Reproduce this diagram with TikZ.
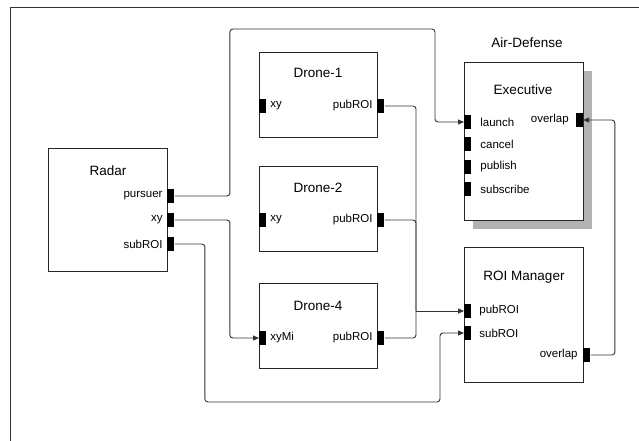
\documentclass[tikz,border=0pt]{standalone}
\usepackage{fontspec}
\setmainfont{Liberation Sans}
\usepackage{tikz}
\usetikzlibrary{arrows.meta,positioning}
\tikzstyle{sys}=[
  x=1pt,y=-1pt,>={Triangle[length=6pt,width=5pt]},line width=0.9pt
]
\tikzstyle{block}=[
  draw=black!85,rectangle,inner sep=0pt,anchor=north west,fill=white,minimum width=118pt
]
\tikzstyle{inport}=[
  fill=black,inner sep=0pt,minimum width=7pt,minimum height=14pt,anchor=west
]
\tikzstyle{outport}=[
  inport
]
\tikzstyle{wire}=[
  draw=black!80,rounded corners=3pt
]

\begin{document}
\begin{tikzpicture}[sys,
    title/.style={font=\fontsize{13.5}{15}\selectfont},
    portlabel/.style={font=\fontsize{11.5}{13}\selectfont,inner sep=0pt},
    ]
    \useasboundingbox (0,0) rectangle (639,441);
    \draw[black!80] (10,441) -- (10,7) -- (639,7);

    %Blocks
    \fill[black!30] (473,71) rectangle (592,229);
    \node[block, minimum height=123pt, minimum width=119pt] (radar) at (48,148) {};
    \node[block, minimum height=85pt]  (drone1) at (259,52)  {};
    \node[block, minimum height=85pt]  (drone2) at (259,166) {};
    \node[block, minimum height=85pt]  (drone4) at (259,283) {};
    \node[block, minimum height=158pt, minimum width=119pt] (exec) at (464,62)  {};
    \node[block, minimum height=135pt, minimum width=119pt] (roi)  at (464,247) {};

    %Titles
    \node[title] (radarTitle)  at (108,171) {Radar};
    \node[title] (drone1Title) at (318,73)  {Drone-1};
    \node[title] (drone2Title) at (318,188) {Drone-2};
    \node[title] (drone4Title) at (318,306) {Drone-4};
    \node[title] (execTitle)   at (523,90)  {Executive};
    \node[title] (roiTitle)    at (524,277) {ROI Manager};
    \node[title] (airTitle)    at (527,43)  {Air-Defense};

    %Ports
    \node[outport] (rdPursuer) at (167,196) {};
    \node[outport] (rdXy)      at (167,220) {};
    \node[outport] (rdSub)     at (167,244) {};
    \node[inport]  (d1Xy)      at (259,106) {};
    \node[outport] (d1Pub)     at (377,106) {};
    \node[inport]  (d2Xy)      at (259,220) {};
    \node[outport] (d2Pub)     at (377,220) {};
    \node[inport]  (d4Xy)      at (259,338) {};
    \node[outport] (d4Pub)     at (377,338) {};
    \node[inport]  (exLaunch)  at (464,122) {};
    \node[inport]  (exCancel)  at (464,144) {};
    \node[inport]  (exPublish) at (464,167) {};
    \node[inport]  (exSub)     at (464,189) {};
    \node[inport, anchor=east] (exOver) at (583,120) {};
    \node[inport]  (roiPub)    at (464,311) {};
    \node[inport]  (roiSub)    at (464,333) {};
    \node[outport] (roiOver)   at (583,355) {};

    %Port labels
    \node[portlabel, left=4pt of rdPursuer]  (rdPursuerText) {pursuer};
    \node[portlabel, left=4pt of rdXy]       (rdXyText)      {xy};
    \node[portlabel, left=4pt of rdSub]      (rdSubText)     {subROI};
    \node[portlabel, right=3pt of d1Xy]      (d1XyText)      {xy};
    \node[portlabel, left=4pt of d1Pub]      (d1PubText)     {pubROI};
    \node[portlabel, right=3pt of d2Xy]      (d2XyText)      {xy};
    \node[portlabel, left=4pt of d2Pub]      (d2PubText)     {pubROI};
    \node[portlabel, right=3pt of d4Xy]      (d4XyText)      {xyMi};
    \node[portlabel, left=4pt of d4Pub]      (d4PubText)     {pubROI};
    \node[portlabel, right=8pt of exLaunch]  (exLaunchText)  {launch};
    \node[portlabel, right=8pt of exCancel]  (exCancelText)  {cancel};
    \node[portlabel, right=8pt of exPublish] (exPublishText) {publish};
    \node[portlabel, right=8pt of exSub]     (exSubText)     {subscribe};
    \node[portlabel, left=6pt of exOver]     (exOverText)    {overlap};
    \node[portlabel, right=7pt of roiPub]    (roiPubText)    {pubROI};
    \node[portlabel, right=7pt of roiSub]    (roiSubText)    {subROI};
    \node[portlabel, left=5pt of roiOver]    (roiOverText)   {overlap};

    %Lines
    \coordinate (joinPub) at (416,311);
    \draw[wire,->] (rdPursuer.east) -- ++(55,0) |- (435,29) |- (exLaunch.west);
    \draw[wire,->] (rdXy.east) -- ++(55,0) |- (d4Xy.west);
    \draw[wire,->] (rdSub.east) -- ++(30,0) |- (440,402) |- (roiSub.west);
    \draw[wire] (d1Pub.east) -| (joinPub);
    \draw[wire] (d2Pub.east) -| (joinPub);
    \draw[wire] (d4Pub.east) -| (joinPub);
    \draw[wire,->] (joinPub) -- (roiPub.west);
    \draw[wire,->] (roiOver.east) -- ++(24,0) |- (exOver.east);
\end{tikzpicture}
\end{document}
